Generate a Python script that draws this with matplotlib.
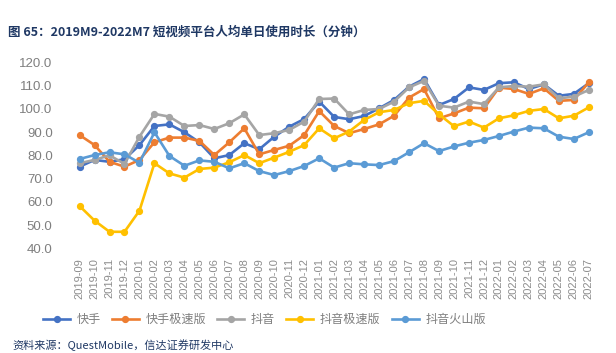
import matplotlib
matplotlib.use("Agg")
import matplotlib.pyplot as plt

plt.rcParams['font.family'] = ['Liberation Sans', 'Noto Sans CJK SC', 'DejaVu Sans']

# months 2019-09 .. 2022-07
months = []
for y in range(2019, 2023):
    for m in range(1, 13):
        if (y == 2019 and m < 9) or (y == 2022 and m > 7):
            continue
        months.append(f"{y}-{m:02d}")

kuaishou = [75.1, 78.0, 77.2, 78.3, 84.4, 92.6, 93.3, 89.9, 85.6, 78.7,
            80.1, 85.2, 82.6, 88.0, 92.3, 95.6, 103.1, 96.5, 95.5, 96.9,
            100.2, 103.8, 109.5, 112.8, 101.6, 104.2, 109.2, 108.1, 111.0, 111.4,
            108.5, 110.5, 105.6, 106.4, 111.0]
kuaishou_lite = [88.7, 84.4, 77.2, 75.1, 78.0, 85.6, 87.6, 87.6, 86.2, 80.1,
                 85.6, 91.6, 80.4, 82.3, 84.1, 88.7, 99.0, 92.6, 89.5, 91.3,
                 93.3, 97.0, 104.8, 108.5, 95.9, 98.0, 100.5, 100.2, 109.1, 108.5,
                 106.4, 108.8, 103.4, 103.8, 111.4]
douyin = [76.6, 78.0, 80.0, 76.3, 88.0, 97.8, 96.6, 92.6, 93.0, 91.3,
          93.8, 97.6, 88.7, 89.5, 90.9, 94.5, 104.2, 104.4, 97.6, 99.5,
          99.9, 103.1, 109.2, 112.0, 101.3, 100.5, 103.1, 102.0, 109.2, 109.8,
          109.5, 110.5, 104.5, 105.2, 108.1]
douyin_lite = [58.2, 51.9, 47.1, 47.1, 56.2, 76.6, 72.2, 70.4, 74.1, 74.7,
               77.0, 80.1, 76.6, 79.0, 81.5, 84.4, 91.6, 87.3, 90.2, 95.2,
               98.5, 99.5, 102.4, 103.4, 97.6, 92.5, 94.5, 91.9, 95.9, 97.2,
               99.1, 99.9, 95.9, 97.0, 100.6]
douyin_huoshan = [78.4, 80.1, 81.3, 80.4, 76.8, 89.9, 79.7, 75.5, 77.8, 77.2,
                  74.4, 76.6, 73.2, 71.5, 73.2, 75.4, 78.7, 74.7, 76.6, 76.1,
                  75.8, 77.5, 81.3, 85.2, 81.8, 83.8, 85.4, 86.6, 88.3, 90.2,
                  91.9, 91.6, 88.0, 87.0, 89.9]

series = [
    ("快手", kuaishou, "#4472C4"),
    ("快手极速版", kuaishou_lite, "#ED7D31"),
    ("抖音", douyin, "#A5A5A5"),
    ("抖音极速版", douyin_lite, "#FFC000"),
    ("抖音火山版", douyin_huoshan, "#5B9BD5"),
]

fig = plt.figure(figsize=(6.16, 3.53), dpi=100)
ax = fig.add_axes([0.117, 0.2966, 0.851, 0.527])

x = list(range(len(months)))
for name, vals, col in series:
    ax.plot(x, vals, color=col, lw=1.9, marker='o', markersize=4.2, label=name)

ax.set_xlim(-0.5, len(months) - 0.5)
ax.set_ylim(40, 120)
ax.set_yticks(range(40, 121, 10))
ax.set_yticklabels([f"{v:.1f}" for v in range(40, 121, 10)])
ax.set_xticks(x)
ax.set_xticklabels(months, rotation=90)
ax.tick_params(axis='y', length=0, labelsize=9.5, labelcolor='#7F7F7F', pad=14)
ax.tick_params(axis='x', length=0, labelsize=8, labelcolor='#8C8C8C', pad=7)
for s in ax.spines.values():
    s.set_visible(False)

leg = ax.legend(loc='center', bbox_to_anchor=(0.367, -0.382), ncol=5,
                frameon=False, handlelength=2.25, handletextpad=0.55,
                columnspacing=0.9,
                prop={'family': ['Noto Sans CJK SC'], 'size': 8.7})
for t in leg.get_texts():
    t.set_color('#7F7F7F')

fig.text(0.013, 0.909, "图 65：2019M9-2022M7 短视频平台人均单日使用时长（分钟）",
         fontsize=9, fontweight='bold', color='#1F3864',
         family=['Noto Sans CJK SC', 'DejaVu Sans'], va='center')
fig.text(0.02, 0.004, "资料来源：QuestMobile，信达证券研发中心",
         fontsize=8, color='#1F3864', family=['Noto Sans CJK SC', 'DejaVu Sans'],
         va='bottom')

fig.savefig("out.png", dpi=100)
